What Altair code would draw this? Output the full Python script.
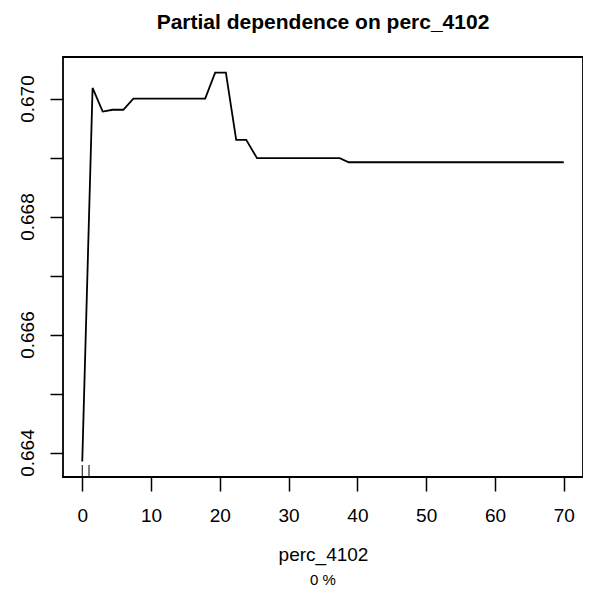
import altair as alt
import pandas as pd

# Partial dependence curve
pd_x = [0, 1.5, 2.97, 4.43, 5.97, 7.43, 17.87, 19.32, 20.88, 22.38, 23.84, 25.4, 37.43, 38.74, 70]
pd_y = [0.66385, 0.67018, 0.66978, 0.66981, 0.66981, 0.67000, 0.67000, 0.67044, 0.67044,
        0.66930, 0.66930, 0.66899, 0.66899, 0.66892, 0.66892]

# Rug (deciles of the predictor)
rug_x = [0, 0.98]

x_ticks = [0, 10, 20, 30, 40, 50, 60, 70]
y_ticks = [0.664, 0.665, 0.666, 0.667, 0.668, 0.669, 0.670]

title_text = "Partial dependence on perc_4102"
x_label = "perc_4102"
sub_text = ["0 %"]

FONT = "Liberation Sans"
X_DOM = [-2.8, 72.8]
Y_DOM = [0.663586, 0.670704]

line_df = pd.DataFrame({"x": pd_x, "y": pd_y})
rug_df = pd.DataFrame({"x": rug_x})
sub_df = pd.DataFrame({"t": sub_text})

xs = alt.Scale(domain=X_DOM, nice=False, zero=False)
ys = alt.Scale(domain=Y_DOM, nice=False, zero=False)

x_axis = alt.Axis(
    values=x_ticks, title=x_label, domain=False, grid=False,
    tickColor="black", tickWidth=1.5, tickSize=14,
    labelFont=FONT, labelFontSize=19, labelColor="black", labelPadding=15,
    labelBaseline="top",
    titleFont=FONT, titleFontSize=19, titleFontWeight="normal", titleColor="black",
    titleY=83, titleBaseline="alphabetic",
)
y_axis = alt.Axis(
    values=y_ticks, title=None, domain=False, grid=False,
    tickColor="black", tickWidth=1.5, tickSize=13,
    labelFont=FONT, labelFontSize=19, labelColor="black", labelPadding=13,
    labelAngle=270, labelAlign="center", labelBaseline="bottom",
    labelExpr="round(datum.value*1000) % 2 == 0 ? format(datum.value, '.3f') : ''",
)

line = alt.Chart(line_df).mark_line(color="black", strokeWidth=1.8).encode(
    x=alt.X("x:Q", scale=xs, axis=x_axis),
    y=alt.Y("y:Q", scale=ys, axis=y_axis),
)

rug = alt.Chart(rug_df).mark_rule(color="black", strokeWidth=1).encode(
    x=alt.X("x:Q", scale=xs),
    y=alt.value(408),
    y2=alt.value(420),
)

sub = alt.Chart(sub_df).mark_text(
    font=FONT, fontSize=15, color="black", baseline="alphabetic", align="center"
).encode(
    text="t:N",
    x=alt.value(260),
    y=alt.value(528),
)

chart = (line + rug + sub).properties(
    width=520, height=420,
    title=alt.TitleParams(
        text=title_text, font=FONT, fontSize=21, fontWeight="bold", color="black",
        anchor="middle", offset=26, baseline="alphabetic", dy=19,
    ),
    autosize=alt.AutoSizeParams(type="none"),
    padding={"left": 55, "top": 49, "right": 0, "bottom": 110},
).configure(
    background="white"
).configure_view(
    stroke="black", strokeWidth=1.8
)

chart.save("out.html", embed_options={"renderer": "svg", "actions": False})
